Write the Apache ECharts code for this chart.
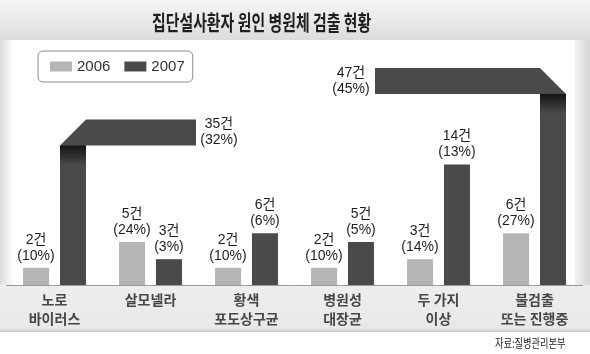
<!DOCTYPE html>
<html>
<head>
<meta charset="utf-8">
<script src="https://cdn.jsdelivr.net/npm/echarts@6/dist/echarts.min.js"></script>
<style>
  html, body { margin: 0; padding: 0; background: #fff; }
  #chart { width: 590px; height: 354px; }
</style>
</head>
<body>
<div id="chart"></div>
<script>
  // 데이터
  var categories = ['노로\n바이러스', '살모넬라', '황색\n포도상구균', '병원성\n대장균', '두 가지\n이상', '불검출\n또는 진행중'];
  var cases2006 = [2, 5, 2, 2, 3, 6];
  var pct2006 = [10, 24, 10, 10, 14, 27];
  var cases2007 = [35, 3, 6, 5, 14, 47];
  var pct2007 = [32, 3, 6, 5, 13, 45];

  var axisMax = 28;
  var c06 = '#b5b5b5';
  var c07 = '#4a4a4a';
  var numFont = '"Liberation Sans", "Noto Sans CJK KR", sans-serif';
  var krFont = '"Noto Sans CJK KR", sans-serif';

  // 축 범위를 넘는 막대는 꺾어서 그림 (꺾이는 높이, 방향, 리본 길이)
  var folds = {
    0: { level: 16.2, dir: 1, len: 110 },
    5: { level: 22.2, dir: -1, len: 165 }
  };

  var plain2007 = cases2007.map(function (v) { return v > axisMax ? '-' : v; });
  var folded2007 = [];
  cases2007.forEach(function (v, i) {
    if (v > axisMax) folded2007.push([i, v, pct2007[i]]);
  });

  var chart = echarts.init(document.getElementById('chart'));

  var barLabel = function (pcts) {
    return {
      show: true,
      position: 'top',
      distance: 4,
      fontSize: 14,
      lineHeight: 16,
      fontFamily: numFont,
      color: '#1e1e1e',
      formatter: function (p) { return p.value + '건\n(' + pcts[p.dataIndex] + '%)'; }
    };
  };

  chart.setOption({
    backgroundColor: '#fff',
    animation: false,
    graphic: [
      { type: 'rect', z: -10, shape: { x: 0, y: 0, width: 590, height: 40 },
        style: { fill: new echarts.graphic.LinearGradient(0, 0, 0, 1, [{ offset: 0, color: '#f6f6f6' }, { offset: 1, color: '#dcdcdc' }]) } },
      { type: 'rect', z: -10, shape: { x: 0, y: 40, width: 14, height: 245 },
        style: { fill: new echarts.graphic.LinearGradient(0, 0, 1, 0, [{ offset: 0, color: '#dcdcdc' }, { offset: 1, color: '#ffffff' }]) } },
      { type: 'rect', z: -10, shape: { x: 575, y: 40, width: 15, height: 245 },
        style: { fill: new echarts.graphic.LinearGradient(0, 0, 1, 0, [{ offset: 0, color: '#f2f2f2' }, { offset: 1, color: '#d6d6d6' }]) } },
      { type: 'rect', z: -10, shape: { x: 0, y: 285, width: 590, height: 47 },
        style: { fill: new echarts.graphic.LinearGradient(0, 0, 0, 1, [{ offset: 0, color: '#eeeeee' }, { offset: 0.92, color: '#e8e8e8' }, { offset: 1, color: '#c9c9c9' }]) } },
      { type: 'text', z: 10, x: 152, y: 22, scaleX: 0.71,
        style: { text: '집단설사환자 원인 병원체 검출 현황', font: 'bold 21px "Noto Sans CJK KR"', fill: '#1f1f1f', align: 'left', verticalAlign: 'middle' } },
      { type: 'text', z: 10, x: 495, y: 343, scaleX: 0.77,
        style: { text: '자료:질병관리본부', font: '12px "Noto Sans CJK KR"', fill: '#222', align: 'left', verticalAlign: 'middle' } }
    ],
    legend: {
      left: 38,
      top: 51,
      padding: [8, 8, 8, 12],
      itemWidth: 22,
      itemHeight: 10,
      itemGap: 14,
      icon: 'rect',
      backgroundColor: '#fff',
      borderColor: '#8a8a8a',
      borderWidth: 1,
      borderRadius: 5,
      data: ['2006', '2007'],
      textStyle: { fontSize: 15, fontFamily: numFont, color: '#333' }
    },
    grid: { left: 6.5, right: 7.5, top: 44, bottom: 69 },
    xAxis: {
      type: 'category',
      data: categories,
      axisTick: { show: false },
      axisLine: { lineStyle: { color: '#9a9a9a', width: 1 } },
      axisLabel: {
        interval: 0,
        margin: 5,
        fontSize: 14,
        lineHeight: 19,
        fontWeight: 'bold',
        fontFamily: krFont,
        color: '#474747'
      }
    },
    yAxis: { type: 'value', min: 0, max: axisMax, show: false, splitLine: { show: false } },
    series: [
      {
        name: '2006',
        type: 'bar',
        data: cases2006,
        barWidth: 26,
        barGap: '42%',
        itemStyle: { color: c06 },
        label: barLabel(pct2006)
      },
      {
        name: '2007',
        type: 'bar',
        data: plain2007,
        barWidth: 26,
        barGap: '42%',
        itemStyle: { color: c07 },
        label: barLabel(pct2007)
      },
      {
        name: '2007',
        type: 'custom',
        data: folded2007,
        itemStyle: { color: c07 },
        encode: { x: 0, y: 1 },
        renderItem: function (params, api) {
          var idx = api.value(0), val = api.value(1), pct = api.value(2);
          var f = folds[idx];
          var base = api.coord([idx, 0]);
          var w = 26;
          var x0 = base[0] + 5.5, x1 = x0 + w;
          var fy = api.coord([idx, f.level])[1];
          var pts, tx;
          if (f.dir > 0) {
            pts = [[x0, base[1]], [x0, fy], [x1, fy - w], [x1 + f.len, fy - w], [x1 + f.len, fy], [x1, fy], [x1, base[1]]];
            tx = x1 + f.len + 23;
          } else {
            pts = [[x1, base[1]], [x1, fy], [x0, fy - w], [x0 - f.len, fy - w], [x0 - f.len, fy], [x0, fy], [x0, base[1]]];
            tx = x0 - f.len - 24;
          }
          return {
            type: 'group',
            children: [
              { type: 'polygon', shape: { points: pts }, style: { fill: c07 } },
              { type: 'rect', shape: { x: x0, y: fy, width: w, height: 20 },
                style: { fill: new echarts.graphic.LinearGradient(0, 0, 0, 1, [{ offset: 0, color: '#141414' }, { offset: 1, color: c07 }]) } },
              { type: 'text', style: {
                  text: val + '건\n(' + pct + '%)', x: tx, y: fy - w / 2,
                  align: 'center', verticalAlign: 'middle',
                  fontSize: 14, lineHeight: 16, fontFamily: numFont, fill: '#1e1e1e' } }
            ]
          };
        }
      }
    ]
  });
</script>
</body>
</html>
